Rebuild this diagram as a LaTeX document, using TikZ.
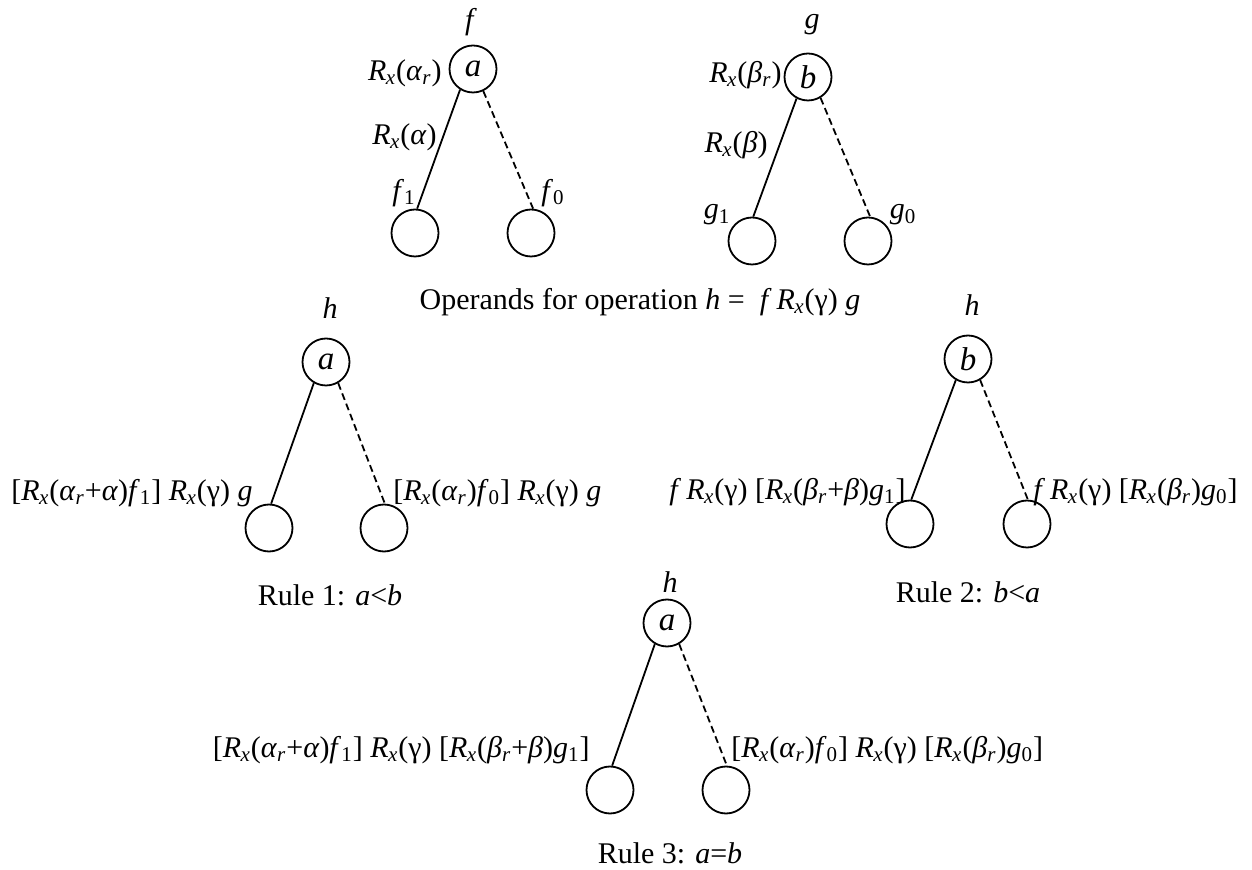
\documentclass[tikz,border=0pt]{standalone}
\usepackage{fontspec}
\setmainfont{Liberation Serif}
\newcommand\iv[1]{\textit{#1}}
\newcommand\sbs[1]{\textsubscript{#1}}
\newcommand\Rx{\textit{R}\kern-0.3pt\textsubscript{\textit{x}}}
\newcommand\ar{\textit{α}\sbs{\textit{r}}}
\newcommand\br{\textit{β}\sbs{\textit{r}}}
\begin{document}
\begin{tikzpicture}[x=0.5pt,y=-0.5pt,
  every node/.style={font=\fontsize{15}{18}\selectfont, inner sep=0pt},
  vtx/.style={circle,draw,line width=0.9pt,minimum size=23.5pt,inner sep=0pt,font=\fontsize{16.5}{18}\selectfont},
  edge1/.style={line width=0.9pt},
  edge0/.style={line width=0.9pt,dash pattern=on 3.5pt off 2pt}]
\useasboundingbox (0,0) rectangle (1252,870);
% ---- operand f
\node[vtx] (fa) at (473,69) {\iv{a}};
\node[vtx] (f1) at (415,233) {};
\node[vtx] (f0) at (531,233) {};
\node (fl) at (471,22) {\iv{f}};
\node[anchor=east] (fr) at (442,73) {\Rx(\ar)};
\node[anchor=east] (fal) at (437,137) {\Rx(\iv{α})};
\node (f1l) at (404,193) {\iv{f}\sbs{1}};
\node (f0l) at (553,193) {\iv{f}\sbs{0}};
\draw[edge1] (fa.238) -- (f1.85);
\draw[edge0] (fa.295) -- (f0.85);
% ---- operand g
\node[vtx] (gb) at (808,77) {\iv{b}};
\node[vtx] (g1) at (752,241) {};
\node[vtx] (g0) at (868,241) {};
\node (gl) at (812,25) {\iv{g}};
\node[anchor=east] (gr) at (782,75) {\Rx(\br)};
\node[anchor=east] (gbl) at (768,145) {\Rx(\iv{β})};
\node (g1l) at (717,215) {\iv{g}\sbs{1}};
\node (g0l) at (903,215) {\iv{g}\sbs{0}};
\draw[edge1] (gb.242) -- (g1.87);
\draw[edge0] (gb.301) -- (g0.85);
\node (cap0) at (640,302) {Operands for operation \iv{h} = \ \iv{f}\,\Rx(γ) \iv{g}};
% ---- rule 1
\node[vtx] (ra) at (326,362) {\iv{a}};
\node[vtx] (r1) at (269,528) {};
\node[vtx] (r0) at (384,528) {};
\node (rh) at (330,308) {\iv{h}};
\draw[edge1] (ra.240) -- (r1.85);
\draw[edge0] (ra.300) -- (r0.88);
\node[anchor=east] (r1l) at (253,493) {[\Rx(\ar+\iv{α})\iv{f}\sbs{1}] \Rx(γ) \iv{g}};
\node[anchor=west] (r0l) at (393,493) {[\Rx(\ar)\iv{f}\sbs{0}] \Rx(γ) \iv{g}};
\node (cap1) at (330,595) {Rule 1: \iv{a}<\iv{b}};
% ---- rule 2
\node[vtx] (sb) at (968,359) {\iv{b}};
\node[vtx] (s1) at (910,524) {};
\node[vtx] (s0) at (1027,524) {};
\node (sh) at (972,305) {\iv{h}};
\draw[edge1] (sb.240) -- (s1.87);
\draw[edge0] (sb.300) -- (s0.88);
\node[anchor=east] (s1l) at (906,492) {\iv{f}\,\Rx(γ) [\Rx(\br+\iv{β})\iv{g}\sbs{1}]};
\node[anchor=west] (s0l) at (1033,492) {\iv{f}\,\Rx(γ) [\Rx(\br)\iv{g}\sbs{0}]};
\node (cap2) at (968,592) {Rule 2: \iv{b}<\iv{a}};
% ---- rule 3
\node[vtx] (ta) at (667,623) {\iv{a}};
\node[vtx] (t1) at (610,790) {};
\node[vtx] (t0) at (726,790) {};
\node (th) at (670,582) {\iv{h}};
\draw[edge1] (ta.240) -- (t1.85);
\draw[edge0] (ta.300) -- (t0.88);
\node[anchor=east] (t1l) at (590,750) {[\Rx(\ar+\iv{α})\iv{f}\sbs{1}] \Rx(γ) [\Rx(\br+\iv{β})\iv{g}\sbs{1}]};
\node[anchor=west] (t0l) at (731,750) {[\Rx(\ar)\iv{f}\sbs{0}] \Rx(γ) [\Rx(\br)\iv{g}\sbs{0}]};
\node (cap3) at (670,853) {Rule 3: \iv{a}=\iv{b}};
\end{tikzpicture}
\end{document}
